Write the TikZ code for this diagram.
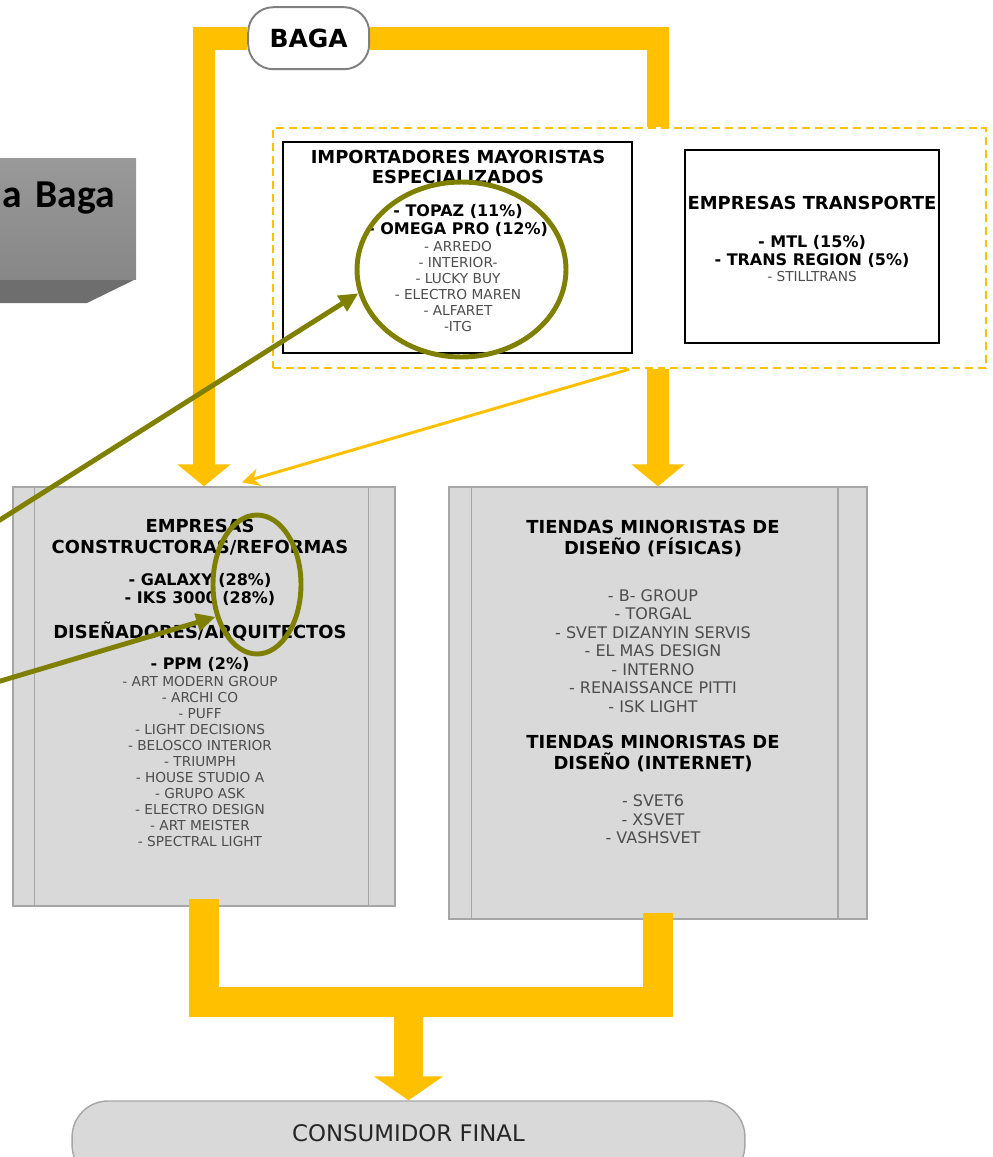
\documentclass[tikz,border=0pt]{standalone}
\usepackage{fontspec}
\setmainfont{DejaVu Sans}
\newfontfamily\calib{Carlito}
\usepackage{xcolor}
\usetikzlibrary{arrows.meta,shapes.geometric,backgrounds,positioning}
\definecolor{baga}{HTML}{FFC000}
\definecolor{olivo}{HTML}{808000}
\definecolor{caja}{HTML}{D9D9D9}
\definecolor{borde}{HTML}{A6A6A6}
\definecolor{gristxt}{HTML}{4D4D4D}

\begin{document}
\begin{tikzpicture}[x=0.02cm,y=-0.02cm,
  hd/.style={font=\bfseries\fontsize{10.2}{12}\selectfont,anchor=base,inner sep=0pt},
  bl/.style={font=\bfseries\fontsize{9.1}{11}\selectfont,anchor=base,inner sep=0pt},
  lt/.style={font=\fontsize{7.8}{9}\selectfont,text=gristxt,anchor=base,inner sep=0pt},
  ltr/.style={lt,font=\fontsize{9.1}{10}\selectfont},
  proc/.style={draw=borde,fill=caja,line width=0.8pt,inner sep=0pt},
  whitebox/.style={draw=black,fill=white,line width=1.2pt,inner sep=0pt},
  band/.style={draw=baga,line width=13pt},
  bandb/.style={draw=baga,line width=17pt},
  ring/.style={draw=olivo,ellipse,line width=2.8pt,inner sep=0pt},
  pointer/.style={draw=olivo,line width=2.8pt,-{Triangle[length=11pt,width=10pt]}}]
\useasboundingbox (0,0) rectangle (992,1157);
\clip (0,0) rectangle (992,1157);

\fill[black!57] (-5,279) -- (136,279) -- (87,303) -- (-5,303) -- cycle;
\fill[top color=black!40,bottom color=black!47] (-5,158) rectangle (136,279);
\node[font=\calib\bfseries\fontsize{22.5}{26}\selectfont,anchor=base east,inner sep=0pt] (tit) at (115,207) {a\hspace{0.35em}Baga};

\node[draw=baga,dash pattern=on 4.5pt off 2.8pt,line width=1.1pt,minimum width=14.26cm,minimum height=4.8cm,inner sep=0pt] (dist) at (629.2,248.3) {};
\node[whitebox,minimum width=6.98cm,minimum height=4.22cm] (imp) at (457.8,247.8) {};
\node[whitebox,minimum width=5.08cm,minimum height=3.86cm] (trans) at (812,246.7) {};

\node[hd] (imp-t1) at (458,163.1) {IMPORTADORES MAYORISTAS};
\node[hd] (imp-t2) at (458,183.7) {ESPECIALIZADOS};
\node[bl] (imp-b1) at (458,216.5) {- TOPAZ (11\%)};
\node[bl] (imp-b2) at (458,234.8) {- OMEGA PRO (12\%)};
\foreach \t [count=\i] in {- ARREDO,- INTERIOR-,- LUCKY BUY,- ELECTRO MAREN,- ALFARET,-ITG}
  \node[lt] (imp-l\i) at (458,235.7+16*\i) {\t};

\node[hd] (tr-t) at (812,209.7) {EMPRESAS TRANSPORTE};
\node[bl] (tr-b1) at (812,247.5) {- MTL (15\%)};
\node[bl] (tr-b2) at (812,265.8) {- TRANS REGION (5\%)};
\node[lt] (tr-l1) at (812,281.7) {- STILLTRANS};

\node[proc,minimum width=7.64cm,minimum height=8.38cm] (lc) at (204,696.5) {};
\node[proc,minimum width=8.36cm,minimum height=8.64cm] (rc) at (658,703) {};
\draw[borde,line width=0.8pt] ([xshift=0.44cm]lc.north west) -- ([xshift=0.44cm]lc.south west);
\draw[borde,line width=0.8pt] ([xshift=-0.54cm]lc.north east) -- ([xshift=-0.54cm]lc.south east);
\draw[borde,line width=0.8pt] ([xshift=0.46cm]rc.north west) -- ([xshift=0.46cm]rc.south west);
\draw[borde,line width=0.8pt] ([xshift=-0.59cm]rc.north east) -- ([xshift=-0.59cm]rc.south east);

\node[hd] (lc-t1) at (200,532.4) {EMPRESAS};
\node[hd] (lc-t2) at (200,553.1) {CONSTRUCTORAS/REFORMAS};
\node[bl] (lc-b1) at (200,585.8) {- GALAXY (28\%)};
\node[bl] (lc-b2) at (200,603.8) {- IKS 3000 (28\%)};
\node[hd] (lc-t3) at (200,638.1) {DISEÑADORES/ARQUITECTOS};
\node[bl] (lc-b3) at (200,669.8) {- PPM (2\%)};
\foreach \t [count=\i] in {- ART MODERN GROUP,- ARCHI CO,- PUFF,- LIGHT DECISIONS,- BELOSCO INTERIOR,- TRIUMPH,- HOUSE STUDIO A,- GRUPO ASK,- ELECTRO DESIGN,- ART MEISTER,- SPECTRAL LIGHT}
  \node[lt] (lc-l\i) at (200,670.7+16*\i) {\t};

\node[hd] (rc-t1) at (653,533.1) {TIENDAS MINORISTAS DE};
\node[hd] (rc-t2) at (653,554.1) {DISEÑO (FÍSICAS)};
\foreach \t [count=\i] in {- B- GROUP,- TORGAL,- SVET DIZANYIN SERVIS,- EL MAS DESIGN,- INTERNO,- RENAISSANCE PITTI,- ISK LIGHT}
  \node[ltr] (rc-a\i) at (653,582.9+18.5*\i) {\t};
\node[hd] (rc-t3) at (653,748.7) {TIENDAS MINORISTAS DE};
\node[hd] (rc-t4) at (653,769.7) {DISEÑO (INTERNET)};
\foreach \t [count=\i] in {- SVET6,- XSVET,- VASHSVET}
  \node[ltr] (rc-b\i) at (653,788.2+18.5*\i) {\t};

\node[proc,rounded corners=0.72cm,minimum width=13.46cm,minimum height=1.6cm] (cons) at (408.5,1141) {};
\node[font=\fontsize{13}{15}\selectfont,anchor=base,inner sep=0pt,text=black!85] (cons-t) at (408.5,1141) {CONSUMIDOR FINAL};

\node[draw=black!50,fill=white,line width=1.1pt,rounded corners=0.5cm,minimum width=2.42cm,minimum height=1.24cm,font=\bfseries\fontsize{14.2}{16}\selectfont,inner sep=0pt] (baga) at (308.7,38.2) {BAGA};

\begin{scope}[on background layer]
\draw[band,-{Triangle[width=29.6pt,length=12.5pt]}] (baga) -| (lc.north);
\draw[band] (baga) -| (dist.north -| rc.north);
\end{scope}
\draw[band,-{Triangle[width=29.6pt,length=12.5pt]}] (dist.south -| rc.north) -- (rc.north);

\coordinate (mrg) at (408.5,1002);
\draw[bandb] ([yshift=0.16cm]lc.south) |- (mrg);
\draw[bandb] ([yshift=0.14cm]rc.south) |- (mrg);
\draw[bandb,-{Triangle[width=38.7pt,length=13.6pt]}] (mrg) -- (cons.north);

\draw[baga,line width=1.7pt,-{Stealth[length=10pt,width=10pt]}] (dist.south) -- ([xshift=0.76cm,yshift=0.08cm]lc.north);

\node[ring,minimum width=4.18cm,minimum height=3.5cm] (ring1) at (461.5,269.5) {};
\node[ring,minimum width=1.76cm,minimum height=2.78cm] (ring2) at (257,584.5) {};
\coordinate (src1) at (-10,526.2);
\coordinate (src2) at (-10,684.1);
\draw[pointer] (src1) -- (ring1.193);
\draw[pointer] (src2) -- (ring2.218);
\end{tikzpicture}
\end{document}
